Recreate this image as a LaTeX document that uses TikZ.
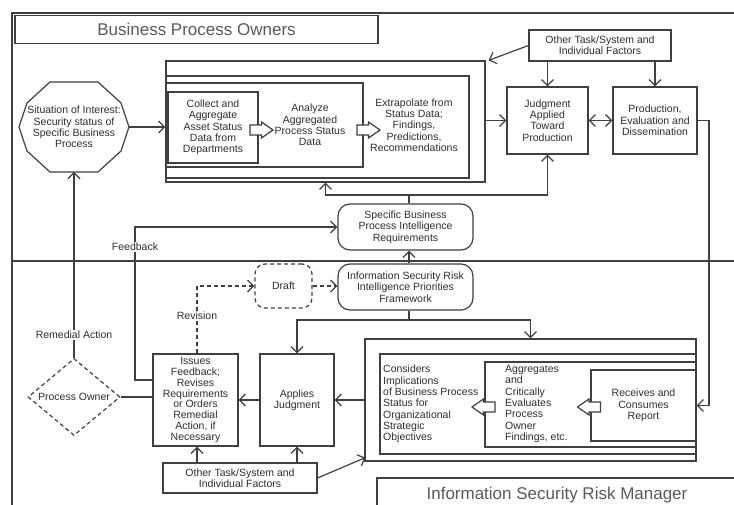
\documentclass[tikz,border=0pt]{standalone}
\usepackage{fontspec}
\setmainfont{Liberation Sans}
\usetikzlibrary{arrows.meta,shapes.geometric,calc}
\definecolor{lncol}{HTML}{404040}
\definecolor{txcol}{HTML}{2E2E2E}
\definecolor{ttcol}{HTML}{5A5A5A}
\begin{document}
\begin{tikzpicture}[x=1pt,y=-1pt,
  every node/.style={text=txcol, align=center, font=\fontsize{10.5}{11.3}\selectfont},
  stroke/.style={draw=lncol, line width=1.2pt},
  bx/.style={stroke, rectangle, inner sep=1pt},
  rbx/.style={bx, rounded corners=12pt},
  conn/.style={stroke, -{Straight Barb[length=6pt,width=12pt]}},
  dconn/.style={stroke, {Straight Barb[length=6pt,width=12pt]}-{Straight Barb[length=6pt,width=12pt]}},
  lbl/.style={fill=white, inner sep=1.5pt},
  ttl/.style={text=ttcol, font=\fontsize{17}{20}\selectfont},
  dsh/.style={dash pattern=on 4pt off 3pt},
  harrow/.pic={\path[stroke, fill=white] (-11.5,-5) -- (0,-5) -- (0,-8) -- (11.5,0) -- (0,8) -- (0,5) -- (-11.5,5) -- cycle;}
]
\useasboundingbox (0,0) rectangle (734,505);
\fill[white] (0,0) rectangle (734,505);
% lanes
\draw[stroke] (12,505) -- (12,13) -- (734,13);
\draw[stroke] (12,261) -- (734,261);
\node[bx, ttl, minimum width=363pt, minimum height=28pt] (bpo) at (196.5,29.5) {Business Process Owners};
\node[bx, ttl, minimum width=360pt, minimum height=34pt] (isrm) at (557,495) {Information Security Risk Manager};

% situation of interest
\node (sit) at (74,127) {Situation of Interest:\\Security status of\\Specific Business\\Process};
\draw[stroke, shift={(sit.center)}] (55,0) -- (47,24) -- (24,45) -- (-24,45) -- (-47,24) -- (-55,0) -- (-47,-24) -- (-24,-45) -- (24,-45) -- (47,-24) -- cycle;
\coordinate (sitE) at ($(sit.center)+(55,0)$);
\coordinate (sitS) at ($(sit.center)+(0,45)$);

% top nested boxes
\node[bx, minimum width=319pt, minimum height=121pt] (t1) at (325.5,121.5) {};
\node[bx, minimum width=303pt, minimum height=102pt] (t2) at (317.5,127) {};
\node[bx, minimum width=197pt, minimum height=84pt] (t3) at (264.5,125) {};
\node[bx, minimum width=90pt, minimum height=71pt] (collect) at (213,127.5) {Collect and\\Aggregate\\Asset Status\\Data from\\Departments};
\node (analyze) at (310,125) {Analyze\\Aggregated\\Process Status\\Data};
\node (extra) at (414,125) {Extrapolate from\\Status Data;\\Findings,\\Predictions,\\Recommendations};
\pic at (261.5,130) {harrow};
\pic at (368.5,130) {harrow};

\node[bx, minimum width=142pt, minimum height=31pt] (oth1) at (600,45.5) {Other Task/System and\\Individual Factors};
\node[bx, minimum width=81pt, minimum height=67pt] (judg) at (547.5,120.5) {Judgment\\Applied\\Toward\\Production};
\node[bx, minimum width=84pt, minimum height=67pt] (prod) at (655,120.5) {Production,\\Evaluation and\\Dissemination};
\node[rbx, minimum width=135pt, minimum height=46pt] (spec) at (405.5,227) {Specific Business\\Process Intelligence\\Requirements};

% bottom lane
\node[rbx, minimum width=135pt, minimum height=46pt] (frame) at (405.5,287) {Information Security Risk\\Intelligence Priorities\\Framework};
\node[rbx, dsh, rounded corners=10pt, minimum width=57pt, minimum height=44pt] (draft) at (283.5,286) {Draft};
\node[bx, minimum width=85pt, minimum height=92pt, font=\fontsize{10.5}{10.9}\selectfont] (issue) at (195.5,400) {Issues\\Feedback;\\Revises\\Requirements\\or Orders\\Remedial\\Action, if\\Necessary};
\node[bx, minimum width=74pt, minimum height=92pt] (apply) at (297,400) {Applies\\Judgment};
\node[bx, minimum width=154pt, minimum height=30pt] (oth2) at (240,478) {Other Task/System and\\Individual Factors};
\node[diamond, stroke, dsh, aspect=1.2, inner sep=0pt, minimum width=92pt, minimum height=77pt] (po) at (74,397) {Process Owner};

\node[bx, minimum width=331pt, minimum height=122pt] (b1) at (530.5,400) {};
\node[bx, minimum width=316pt, minimum height=100pt] (b2) at (538,404) {};
\node[bx, minimum width=211pt, minimum height=85pt] (b3) at (590.5,404.5) {};
\node[bx, minimum width=105pt, minimum height=71pt] (recv) at (643.5,405.5) {Receives and\\Consumes\\Report};
\node[anchor=west, align=left, inner sep=0pt] (cons) at (383,404) {Considers\\Implications\\of Business Process\\Status for\\Organizational\\Strategic\\Objectives};
\node[anchor=west, align=left, inner sep=0pt] (aggr) at (505,404) {Aggregates\\and\\Critically\\Evaluates\\Process\\Owner\\Findings, etc.};
\pic[rotate=180] at (483.5,407) {harrow};
\pic[rotate=180] at (589,407) {harrow};

% connectors top
\draw[conn] (sitE) -- (sitE -| t1.west);
\coordinate (c1) at ($(t1.north east)+(3,0)$);
\draw[conn] (oth1.west) -- (c1);
\draw[conn] (oth1.south -| judg.north) -- (judg.north);
\draw[conn] (oth1.south -| prod.north) -- (prod.north);
\draw[conn] (t1.east |- judg.west) -- (judg.west);
\draw[dconn] (judg.east) -- (prod.west);
\coordinate (pr) at (709,0);
\draw[conn] (prod.east) -- (prod.east -| pr) |- (recv.east);
\coordinate (sj) at (409,195);
\draw[stroke] (spec.north -| sj) -- (sj);
\draw[conn] (sj) -| (t1.south);
\draw[conn] (sj) -| (judg.south);

% connectors between lanes
\coordinate (fb) at (135,380);
\draw[conn] (fb -| issue.west) -- (fb) |- (spec.west);
\node[lbl] (fbl) at (135,247) {Feedback};
\draw[conn] (po.north) -- (sitS);
\node[lbl] (reml) at (74,335) {Remedial Action};
\draw[conn] (frame.north -| sj) -- (spec.south -| sj);

% connectors bottom
\coordinate (fj) at (409,320);
\draw[stroke] (frame.south -| fj) -- (fj);
\draw[conn] (fj) -| (apply.north);
\draw[conn] (fj) -| (b1.north);
\draw[conn, dsh] (draft.east) -- (draft.east -| frame.west);
\coordinate (rv) at (197,286);
\draw[conn, dsh] (rv |- issue.north) -- (rv) -- (draft.west);
\node[lbl] (revl) at (197,316) {Revision};
\draw[stroke] (po.east) -- (po.east -| issue.west);
\draw[conn] (apply.west) -- (issue.east);
\draw[conn] (b1.west) -- (apply.east);
\draw[conn] (oth2.north -| rv) -- (issue.south -| rv);
\draw[conn] (oth2.north -| apply.south) -- (apply.south);
\coordinate (c2) at ($(b1.south west)+(1,-4)$);
\draw[conn] (oth2.east) -- (c2);
\end{tikzpicture}
\end{document}
